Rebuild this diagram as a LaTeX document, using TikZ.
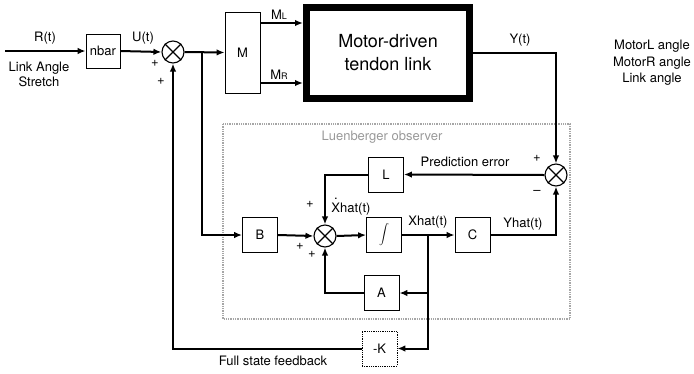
\documentclass[tikz,border=0pt]{standalone}
\usepackage{fontspec}
\setmainfont{TeX Gyre Heros}
\usetikzlibrary{arrows.meta}
\usetikzlibrary{calc}
\usetikzlibrary{positioning}

\begin{document}
\begin{tikzpicture}[x=1pt,y=-1pt,
>={Latex[length=8pt,width=6.5pt]},
sig/.style = {->, line width=2pt},
blk/.style = {draw, line width=0.8pt, minimum width=35pt, minimum height=35pt, inner sep=0pt, font=\fontsize{13}{13}\selectfont},
sumn/.style = {draw, circle, line width=1.1pt, minimum size=22pt, inner sep=0pt},
lbl/.style = {font=\fontsize{13}{15}\selectfont, inner sep=0pt},
]
\useasboundingbox (0,0) rectangle (694,373);

% observer frame
\draw[gray!70, densely dotted, line width=1.3pt] (223,124) rectangle (570,319);
\node (obs) [lbl, text=gray!80] at (382,137) {Luenberger observer};

% forward path
\coordinate (in) at (5,51);
\node (nbar) [blk, minimum width=34pt, minimum height=34pt] at (103,51) {nbar};
\node (sum1) [sumn] at (173,52) {};
\node (M) [blk, minimum height=81pt] at (242.5,52.5) {M};
\node (plant) [draw, line width=7pt, minimum width=163pt, minimum height=91pt, align=center,
  font=\fontsize{18}{23}\selectfont] at (388,53) {Motor-driven\\tendon link};
\coordinate (br1) at (202,52);

% observer blocks
\node (sum2) [sumn] at (556,175) {};
\node (L) [blk] at (386,174.5) {L};
\node (sum3) [sumn] at (325,236) {};
\node (B) [blk] at (260,235) {B};
\node (integ) [blk] at (384,235) {$\displaystyle\int$};
\node (C) [blk] at (472.5,235) {C};
\node (A) [blk] at (381.5,293) {A};
\node (K) [blk, densely dotted] at (379.5,348.5) {-K};
\coordinate (br2) at (428,235);

\foreach \s in {sum1,sum2,sum3}
  \draw[line width=1.1pt] (\s.north west) -- (\s.south east) (\s.north east) -- (\s.south west);

% connectors
\draw[sig] (in) -- (nbar.west);
\draw[sig] (nbar.east) -- (sum1.west);
\draw[sig] (sum1.east) -- (M.west);
\draw[sig] ([yshift=29.5pt]M.east) -- ([yshift=29.5pt]M.east -| plant.west);
\draw[sig] ([yshift=-30.5pt]M.east) -- ([yshift=-30.5pt]M.east -| plant.west);
\draw[sig] (plant.east) -| (sum2.north);
\draw[sig] (sum2.west) -- (L.east);
\draw[sig] (L.west) -| (sum3.north);
\draw[sig] (br1) |- (B.west);
\draw[sig] (B.east) -- (sum3.west);
\draw[sig] (sum3.east) -- (integ.west);
\draw[sig] (integ.east) -- (C.west);
\draw[sig] (C.east) -| (sum2.south);
\draw[sig] (br2) |- (A.east);
\draw[sig] (br2) |- (K.east);
\draw[sig] (A.west) -| (sum3.south);
\draw[sig] (K.west) -| (sum1.south);

% labels
\node (lR) [lbl] at (45,38) {R(t)};
\node (lstretch) [lbl, align=center] at (39,74) {Link Angle\\Stretch};
\node (lU) [lbl] at (143,38) {U(t)};
\node (p1) [lbl] at (155,63) {+};
\node (p2) [lbl] at (161,81) {+};
\node (lML) [lbl] at (279,15) {M{\fontsize{9}{9}\selectfont L}};
\node (lMR) [lbl] at (279,75) {M{\fontsize{9}{9}\selectfont R}};
\node (lY) [lbl] at (520,40) {Y(t)};
\node (lout) [lbl, align=center, font=\fontsize{13}{16.5}\selectfont] at (652,63) {MotorL angle\\MotorR angle\\Link angle};
\node (p3) [lbl] at (537,158) {+};
\node (m1) [lbl] at (537,192) {–};
\node (lerr) [lbl] at (465,162) {Prediction error};
\node (p4) [lbl] at (310,204) {+};
\node (lXd) [lbl] at (351,207) {\makebox[0pt][l]{\hspace{2.6pt}\raisebox{13pt}{.}}Xhat(t)};
\node (p5) [lbl] at (300,246) {+};
\node (p6) [lbl] at (312,254) {+};
\node (lX) [lbl] at (428,222) {Xhat(t)};
\node (lYh) [lbl] at (523,224) {Yhat(t)};
\node (lfb) [lbl] at (273,361) {Full state feedback};
\end{tikzpicture}
\end{document}
